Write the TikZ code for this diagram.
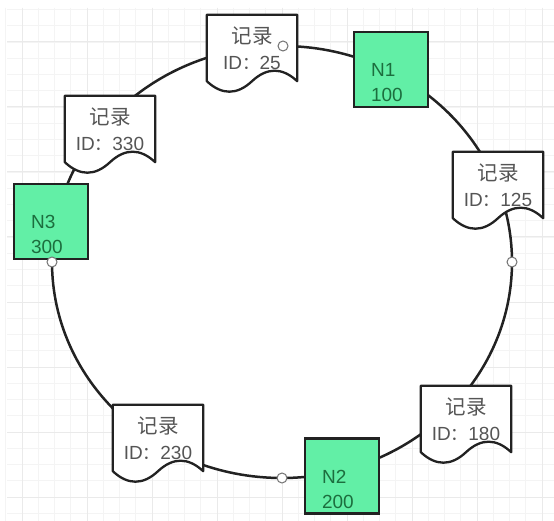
\documentclass[tikz,border=0pt]{standalone}
\usepackage{fontspec}
\setmainfont{Liberation Sans}
\newfontfamily\cjk[Scale=1.08]{Noto Sans CJK SC}
\newfontfamily\cjkc[Scale=0.92]{Noto Sans CJK SC}
\usetikzlibrary{calc}
\definecolor{nodegreen}{HTML}{62EFA6}
\definecolor{txtgreen}{HTML}{1C6E3E}
\definecolor{txtgray}{HTML}{555555}
\definecolor{gridmaj}{HTML}{EAEAEA}
\definecolor{gridmin}{HTML}{F4F4F4}
\definecolor{linecol}{HTML}{222222}
\tikzset{
  ring/.style={line width=2.5pt, draw=linecol},
  docbox/.style={minimum width=90pt, minimum height=66pt, inner sep=0pt, align=center, text=txtgray, font=\fontsize{19}{26}\selectfont},
  docline/.style={line width=2.3pt, draw=linecol, fill=white, line join=round},
  nbox/.style={draw=linecol, line width=2.3pt, fill=nodegreen, minimum width=74pt, minimum height=75pt, inner sep=0pt},
  nlabel/.style={text=txtgreen, align=left, font=\fontsize{19}{25}\selectfont, anchor=west, inner sep=0pt},
  port/.style={circle, draw=black!55, fill=white, line width=1pt, minimum size=10pt, inner sep=0pt},
  gmin/.style={draw=gridmin, line width=0.8pt},
  gmaj/.style={draw=gridmaj, line width=1pt},
}
\newcommand\docoutline[1]{%
  \draw[docline] (#1.north west) -- (#1.north east) -- (#1.south east)
    .. controls +(-15,-14) and +(15,-14) .. (#1.south)
    .. controls +(-15,14) and +(15,14) .. (#1.south west) -- cycle;}
\newcommand\rec{{\cjk 记录}}
\newcommand\colonfw{{\cjkc ：}}
\begin{document}
\begin{tikzpicture}[x=1pt,y=-1pt]
\useasboundingbox (0,0) rectangle (554,521);
\fill[white] (0,0) rectangle (554,521);
% grid
\foreach \i in {0,...,34} {
  \pgfmathsetmacro\gx{5.75+16.25*\i}
  \draw[gmin] (\gx,8) -- (\gx,521);
}
\foreach \i in {0,...,31} {
  \pgfmathsetmacro\gy{9.5+16.25*\i}
  \draw[gmin] (7,\gy) -- (554,\gy);
}
\foreach \i in {0,...,8} {
  \pgfmathsetmacro\gx{22+65*\i}
  \draw[gmaj] (\gx,8) -- (\gx,521);
}
\foreach \i in {0,...,7} {
  \pgfmathsetmacro\gy{42+65*\i}
  \draw[gmaj] (7,\gy) -- (554,\gy);
}
% ring
\fill[white] (282,262) ellipse [x radius=230, y radius=216];
\draw[ring] (282,262) ellipse [x radius=230, y radius=216];
% ports on the ring
\node[port] (pr) at (512,262) {};
\node[port] (pb) at (282,478) {};
% documents
\node[docbox] (d25) at (252,48) {};
\docoutline{d25}
\node[docbox] (d25) at (252,48) {\rec\\ID\colonfw 25};
\node[port] (pt) at (283,46) {};
\node[docbox] (d330) at (110,129) {};
\docoutline{d330}
\node[docbox] (d330) at (110,129) {\rec\\ID\colonfw 330};
\node[docbox] (d125) at (498,185) {};
\docoutline{d125}
\node[docbox] (d125) at (498,185) {\rec\\ID\colonfw 125};
\node[docbox] (d180) at (466,419) {};
\docoutline{d180}
\node[docbox] (d180) at (466,419) {\rec\\ID\colonfw 180};
\node[docbox] (d230) at (158,438) {};
\docoutline{d230}
\node[docbox] (d230) at (158,438) {\rec\\ID\colonfw 230};
% green nodes
\node[nbox] (n1) at (391,69.5) {};
\node[nlabel] (n1t) at ($(n1.west)+(18,13)$) {N1\\100};
\node[nbox] (n3) at (51,221.5) {};
\node[nlabel] (n3t) at ($(n3.west)+(18,13)$) {N3\\300};
\node[nbox] (n2) at (342,476) {};
\node[nlabel] (n2t) at ($(n2.west)+(18,13)$) {N2\\200};
\node[port] (pl) at (52,262) {};
\end{tikzpicture}
\end{document}
